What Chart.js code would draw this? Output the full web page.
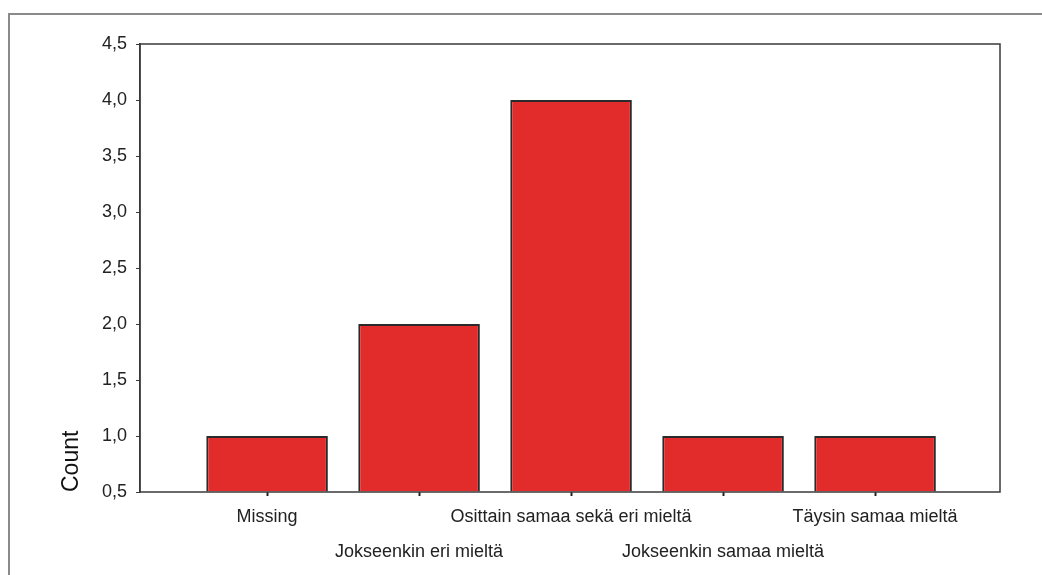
<!DOCTYPE html>
<html>
<head>
<meta charset="utf-8">
<script src="https://cdn.jsdelivr.net/npm/chart.js@4/dist/chart.umd.min.js"></script>
<style>
  html, body { margin: 0; padding: 0; background: #fff; }
  #wrap { position: relative; width: 1042px; height: 575px; overflow: hidden; }
  #frame { position: absolute; left: 8px; top: 13px; right: -10px; bottom: -10px;
           border-left: 2px solid #8a8a8a; border-top: 2px solid #8a8a8a; }
  canvas { position: absolute; left: 0; top: 0; }
</style>
</head>
<body>
<div id="wrap">
  <div id="frame"></div>
  <canvas id="chart" width="1042" height="575"></canvas>
</div>
<script>
// Answers per category
const categories = ["Missing", "Jokseenkin eri mieltä", "Osittain samaa sekä eri mieltä", "Jokseenkin samaa mieltä", "Täysin samaa mieltä"];
const counts = [1, 2, 4, 1, 1];
const yTicks = [0.5, 1.0, 1.5, 2.0, 2.5, 3.0, 3.5, 4.0, 4.5];

const FONT = "'Liberation Sans Narrow', Arial, sans-serif";

// box around the plot area
const plotBox = {
  id: "plotBox",
  afterDatasetsDraw(chart) {
    const a = chart.chartArea;
    const ctx = chart.ctx;
    ctx.save();
    ctx.strokeStyle = "#3a3a3a";
    ctx.lineWidth = 1.5;
    ctx.strokeRect(a.left, a.top, a.right - a.left, a.bottom - a.top);
    ctx.restore();
  }
};

new Chart(document.getElementById("chart"), {
  type: "bar",
  data: {
    datasets: [{
      data: counts.map((v, i) => ({ x: i, y: v })),
      backgroundColor: "#e22b2b",
      borderColor: "#2a2a2a",
      borderWidth: 2,
      base: 0.5,
      categoryPercentage: 1,
      barPercentage: 0.8
    }]
  },
  options: {
    responsive: false,
    animation: false,
    layout: { padding: { left: 52, right: 42, top: 44, bottom: 0 } },
    plugins: { legend: { display: false }, tooltip: { enabled: false } },
    scales: {
      x: {
        type: "linear",
        offset: false,
        min: -0.836,
        max: 4.822,
        afterBuildTicks: s => { s.ticks = categories.map((c, i) => ({ value: i })); },
        afterFit: s => { s.height = 83; },
        border: { display: false },
        grid: { offset: false, drawOnChartArea: false, tickLength: 4, color: "#222", tickWidth: 2 },
        ticks: {
          maxRotation: 0,
          autoSkip: false,
          padding: 3,
          color: "#222",
          font: { family: FONT, size: 18, lineHeight: 1.95 },
          // staggered labels: odd ones sit on a second row
          callback: v => (v % 2 ? ["", categories[v]] : categories[v])
        }
      },
      y: {
        min: 0.5,
        max: 4.5,
        afterBuildTicks: s => { s.ticks = yTicks.map(v => ({ value: v })); },
        afterFit: s => { s.width = 88; },
        border: { display: true, color: "#3a3a3a", width: 1.5 },
        grid: { drawOnChartArea: false, tickLength: 4, color: "#3a3a3a" },
        ticks: {
          padding: 9,
          color: "#222",
          font: { family: FONT, size: 18 },
          callback: v => v.toFixed(1).replace(".", ",")
        },
        title: {
          display: true,
          text: "Count",
          align: "start",
          color: "#111",
          padding: { top: 6, bottom: 0 },
          font: { family: FONT, size: 23, weight: "500" }
        }
      }
    }
  },
  plugins: [plotBox]
});
</script>
</body>
</html>
